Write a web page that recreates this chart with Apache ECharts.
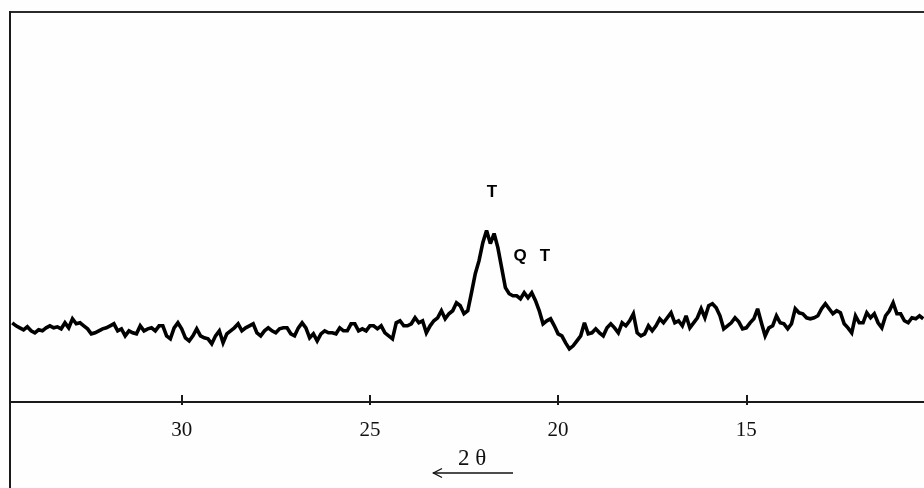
<!DOCTYPE html>
<html>
<head>
<meta charset="utf-8">
<script src="https://cdn.jsdelivr.net/npm/echarts@6.0.0/dist/echarts.min.js"></script>
<style>
  html, body { margin: 0; padding: 0; background: #fefefe; }
  #chart { width: 924px; height: 488px; }
</style>
</head>
<body>
<div id="chart"></div>
<script>
// scan goes from 34.5 down to 10.3 deg 2theta, one reading every 0.1 deg
const scanStart = 34.5
const scanStep = 0.1

// intensity (arbitrary units)
const intensity = [
  79, 76, 74, 72, 75, 71, 69, 72, 71, 74,   // 34.5 .. 33.6
  76, 74, 75, 73, 79, 74, 83, 78, 79, 76,   // 33.5 .. 32.6
  73, 68, 69, 71, 73, 74, 76, 78, 71, 73,   // 32.5 .. 31.6
  66, 71, 69, 68, 76, 71, 73, 74, 71, 76,   // 31.5 .. 30.6
  76, 66, 63, 74, 79, 73, 64, 61, 66, 73,   // 30.5 .. 29.6
  66, 64, 63, 58, 66, 71, 59, 68, 71, 74,   // 29.5 .. 28.6
  78, 71, 74, 76, 78, 69, 66, 71, 74, 71,   // 28.5 .. 27.6
  69, 73, 74, 74, 68, 66, 74, 79, 74, 64,   // 27.5 .. 26.6
  68, 61, 68, 71, 69, 69, 68, 74, 71, 71,   // 26.5 .. 25.6
  78, 78, 71, 73, 71, 76, 76, 73, 76, 69,   // 25.5 .. 24.6
  66, 63, 79, 81, 76, 76, 78, 84, 79, 81,   // 24.5 .. 23.6
  69, 76, 81, 84, 91, 83, 88, 91, 99, 96,   // 23.5 .. 22.6
  88, 91, 109, 128, 141, 159, 171, 158, 168, 154, // 22.5 .. 21.6
  134, 114, 108, 106, 106, 103, 109, 104, 109, 101, // 21.5 .. 20.6
  91, 78, 81, 83, 76, 68, 66, 59, 53, 56,   // 20.5 .. 19.6
  61, 66, 79, 68, 69, 73, 69, 66, 74, 78,   // 19.5 .. 18.6
  74, 69, 79, 76, 81, 88, 69, 66, 68, 76,   // 18.5 .. 17.6
  71, 76, 83, 79, 84, 89, 79, 81, 76, 86,   // 17.5 .. 16.6
  74, 79, 84, 93, 84, 96, 98, 94, 86, 73,   // 16.5 .. 15.6
  76, 79, 84, 80, 73, 74, 79, 83, 93, 79,   // 15.5 .. 14.6
  66, 74, 76, 86, 79, 78, 73, 78, 93, 89,   // 14.5 .. 13.6
  88, 84, 83, 84, 86, 93, 98, 93, 88, 91,   // 13.5 .. 12.6
  89, 78, 74, 69, 86, 79, 79, 89, 84, 88,   // 12.5 .. 11.6
  79, 74, 86, 91, 99, 88, 88, 81, 79, 84,   // 11.5 .. 10.6
  83, 86, 83                                // 10.5 .. 10.3
]

const tickValues = [15, 20, 25, 30]

// phase labels over the peaks
const peakLabels = ['T', 'Q', 'T']
const peakAngles = [21.76, 21.01, 20.35]
const peakHeights = [209, 145, 145]

const trace = intensity.map((v, i) => [+(scanStart - i * scanStep).toFixed(2), v])
const peakData = peakLabels.map((t, i) => ({ value: [peakAngles[i], peakHeights[i]], name: t }))

const chart = echarts.init(document.getElementById('chart'))

const axisBase = {
  type: 'value',
  inverse: true,
  min: 10.28,
  max: 34.56,
  position: 'bottom',
  offset: 0,
  splitLine: { show: false }
}

const option = {
  backgroundColor: '#fefefe',
  animation: false,
  grid: { left: 10, right: 0, top: 11, bottom: 86 },
  xAxis: [
    {
      ...axisBase,
      axisLine: { lineStyle: { color: '#1a1a1a', width: 2 } },
      axisTick: { show: true, inside: false, length: 3, customValues: tickValues, lineStyle: { color: '#1a1a1a', width: 2 } },
      axisLabel: {
        customValues: tickValues,
        margin: 18,
        color: '#111',
        fontFamily: 'Liberation Serif',
        fontSize: 21
      }
    },
    {
      ...axisBase,
      axisLine: { show: false },
      axisTick: { show: true, inside: true, length: 7, customValues: tickValues, lineStyle: { color: '#1a1a1a', width: 2 } },
      axisLabel: { show: false }
    }
  ],
  yAxis: {
    type: 'value',
    min: 0,
    max: 390,
    show: false
  },
  graphic: [
    { type: 'line', shape: { x1: 10, y1: 12, x2: 924, y2: 12 }, style: { stroke: '#2a2a2a', lineWidth: 2 } },
    { type: 'line', shape: { x1: 10, y1: 11, x2: 10, y2: 488 }, style: { stroke: '#1a1a1a', lineWidth: 2 } },
    {
      type: 'text', left: 458, top: 447,
      style: { text: '2 θ', font: '23px "Liberation Serif"', fill: '#111' }
    },
    { type: 'line', shape: { x1: 433, y1: 473, x2: 513, y2: 473 }, style: { stroke: '#111', lineWidth: 1.4 } },
    { type: 'polyline', shape: { points: [[442, 468.5], [433.5, 473], [442, 477.5]] }, style: { stroke: '#111', lineWidth: 1.4, fill: null } }
  ],
  series: [
    {
      type: 'line',
      data: trace,
      showSymbol: false,
      lineStyle: { color: '#000', width: 3.6, join: 'miter', miterLimit: 3 },
      silent: true
    },
    {
      type: 'scatter',
      data: peakData,
      symbolSize: 1,
      itemStyle: { color: 'transparent', opacity: 1 },
      label: {
        show: true,
        position: 'inside',
        formatter: p => p.name,
        color: '#000',
        opacity: 1,
        fontFamily: 'Liberation Sans',
        fontWeight: 'bold',
        fontSize: 17
      },
      silent: true
    }
  ]
}

chart.setOption(option)
</script>
</body>
</html>
